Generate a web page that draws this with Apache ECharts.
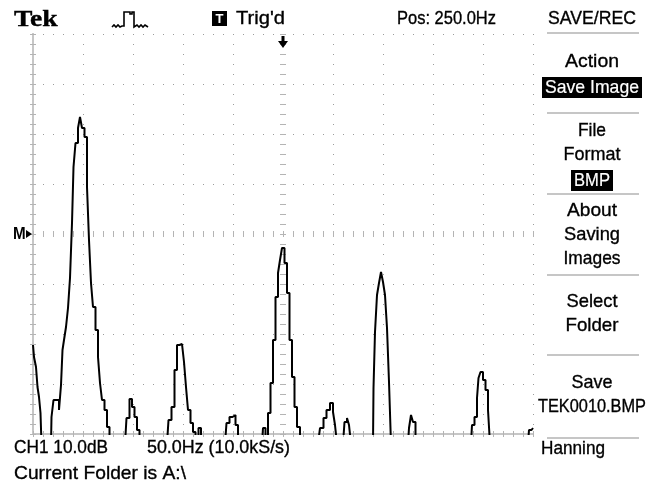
<!DOCTYPE html>
<html>
<head>
<meta charset="utf-8">
<script src="https://cdn.jsdelivr.net/npm/echarts@6/dist/echarts.min.js"></script>
<style>
  html, body { margin: 0; padding: 0; background: #fff; }
  #scope { width: 652px; height: 488px; }
</style>
</head>
<body>
<div id="scope"></div>
<script>
// FFT trace: frequency (Hz) and level (dB above screen bottom, 10 dB/div).
// Values below 0 fall off the bottom of the screen.
const freqHz = [0, 2, 4, 5, 7, 8, 9, 18, 19, 22, 25, 27, 29, 30, 32, 34, 36, 38, 40, 41,
  44, 46, 48, 50, 53, 55, 57, 59, 61, 64, 66, 68, 70, 73, 75, 78, 92, 95, 98, 100,
  103, 105, 108, 134, 137, 140, 143, 145, 148, 150, 152, 154, 156, 159, 161, 164, 167, 169, 192, 195,
  198, 201, 204, 206, 229, 231, 234, 236, 239, 241, 244, 246, 248, 250, 253, 255, 258, 260, 263, 265,
  269, 285, 289, 292, 295, 299, 301, 303, 305, 310, 313, 315, 317, 319, 340, 341, 343, 345, 347, 349,
  351, 353, 355, 357, 359, 375, 377, 379, 381, 384, 438, 440, 443, 445, 446, 449, 451, 454, 456, 458,
  495, 497, 500];
const levelDb = [17.8, 15.4, 13.4, 9.4, 7.4, 4.2, -2, -2, 3.4, 6.8, 6.8, 4.8, 9.8, 16.8, 18.8, 21.4, 25.2, 31.2, 42.2, 53.4,
  58.2, 61.2, 63.4, 61.2, 59.4, 49.4, 38.8, 30.2, 25.4, 20.8, 15.4, 10.2, 6.8, 4.8, 1.4, -2, -2, 3.2, 7, 5.4,
  3.4, 0.8, -2, -2, 2.8, 5.4, 12.8, 17.8, 18, 17.6, 14.4, 9.4, 4.8, 2.2, 0.4, -2, 1.2, -2, -2, 2.2,
  3.4, 3.8, 1.8, -2, -2, 1.2, -2, 4.2, 10.2, 18.8, 27.4, 32.2, 34.8, 37.2, 34.2, 28.2, 18.8, 11.4, 5.4, 1.4,
  -2, -2, 1.2, 3.2, 4.8, 6.2, 4.4, 1.8, -2, -2, 2.4, 3.2, 1.8, -2, -2, 9.2, 20.4, 27.8, 30.2, 32.4,
  30.4, 27.8, 21.2, 10.4, -2, -2, 1.2, 3.8, 2.4, -2, -2, 1.8, 3.4, 7.2, 11.2, 12.4, 10.8, 8.8, 4.8, -2,
  -2, 0.8, 1.2];

// Screen scales: 10 divisions of 50 Hz, 8 divisions of 10 dB
const freqSpan = [0, 500];
const freqPerDiv = 50;
const levelSpan = [0, 80];
const levelPerDiv = 10;
const triggerPosHz = 250;
const markerLevel = 40;

// Readouts
const headerTexts = { brand: 'Tek', trig: "Trig'd", pos: 'Pos: 250.0Hz', menu: 'SAVE/REC' };
const footerTexts = { ch: 'CH1 10.0dB', base: '50.0Hz (10.0kS/s)', folder: 'Current Folder is A:\\', win: 'Hanning' };
const menuItems = [
  { lines: ['Action'], inverse: 'Save Image' },
  { lines: ['File', 'Format'], inverse: 'BMP' },
  { lines: ['About', 'Saving', 'Images'] },
  { lines: ['Select', 'Folder'] },
  { lines: ['Save', 'TEK0010.BMP'] }
];

const traceData = freqHz.map((f, i) => [f, levelDb[i]]);

const FRAME = '#c6c6c6';
const DOTS = '#9c9c9c';
const TICKC = '#b4b4b4';
const FONT = '19px "Liberation Sans", Arial, sans-serif';

// rendered widths of the screen font's strings (px)
const textWidth = {
  "Trig'd": 49, 'Pos: 250.0Hz': 99, 'SAVE/REC': 88,
  'Action': 54, 'Save Image': 94, 'File': 28, 'Format': 57, 'BMP': 36,
  'About': 50, 'Saving': 56, 'Images': 57, 'Select': 51, 'Folder': 53,
  'Save': 41, 'TEK0010.BMP': 108, 'Hanning': 64,
  'CH1 10.0dB': 94, '50.0Hz (10.0kS/s)': 143, 'Current Folder is A:\\': 172
};
const measureCtx = document.createElement('canvas').getContext('2d');
function fitScale(text, font) {
  const w = textWidth[text];
  if (!w) return 1;
  measureCtx.font = font;
  return w / measureCtx.measureText(text).width;
}

const chart = echarts.init(document.getElementById('scope'), null, { renderer: 'canvas' });

function frameX(position, extra) {
  return Object.assign({
    type: 'value', gridIndex: 0, position: position,
    min: freqSpan[0], max: freqSpan[1], interval: freqPerDiv,
    axisLabel: { show: false },
    axisLine: { show: true, lineStyle: { color: FRAME, width: 2 } },
    axisTick: { show: true, inside: true, length: 3, lineStyle: { color: TICKC } },
    minorTick: { show: true, splitNumber: 5, length: 3, lineStyle: { color: TICKC } },
    splitLine: { show: false }
  }, extra || {});
}
function frameY(position, extra) {
  return Object.assign({
    type: 'value', gridIndex: 0, position: position,
    min: levelSpan[0], max: levelSpan[1], interval: levelPerDiv,
    axisLabel: { show: false },
    axisLine: { show: true, lineStyle: { color: FRAME, width: 2 } },
    axisTick: { show: true, inside: true, length: 3, lineStyle: { color: TICKC } },
    minorTick: { show: true, splitNumber: 5, length: 3, lineStyle: { color: TICKC } },
    splitLine: { show: false }
  }, extra || {});
}

chart.setOption({
  animation: false,
  backgroundColor: '#ffffff',
  grid: { left: 33, top: 34, width: 500, height: 400, outerBoundsMode: 'none', containLabel: false },
  xAxis: [
    frameX('bottom', { splitLine: { show: true, lineStyle: { color: DOTS, width: 1, type: [1, 9] } } }),
    frameX('top'),
    // centre horizontal graticule line: short vertical dashes
    frameX('bottom', {
      offset: -197,
      axisLine: { show: false },
      axisTick: { show: true, inside: true, length: 6, lineStyle: { color: TICKC } },
      minorTick: { show: true, splitNumber: 5, length: 6, lineStyle: { color: TICKC } }
    })
  ],
  yAxis: [
    frameY('left', { splitLine: { show: true, lineStyle: { color: DOTS, width: 1, type: [1, 9] } } }),
    frameY('right'),
    // centre vertical graticule line: short horizontal dashes
    frameY('left', {
      offset: -247,
      axisLine: { show: false },
      axisTick: { show: true, inside: true, length: 6, lineStyle: { color: TICKC } },
      minorTick: { show: true, splitNumber: 5, length: 6, lineStyle: { color: TICKC } }
    })
  ],
  series: [{
    type: 'line',
    name: 'CH1 FFT',
    xAxisIndex: 0, yAxisIndex: 0,
    data: traceData,
    step: 'middle',
    showSymbol: false,
    symbol: 'none',
    clip: true,
    lineStyle: { color: '#000000', width: 2 },
    z: 5
  }]
});

// Screen chrome: readouts, menu and markers
const g = [];
function txt(x, y, text, opt) {
  opt = opt || {};
  const font = opt.font || FONT;
  const fill = opt.fill || '#000';
  g.push({
    type: 'text', x: x, y: y, scaleX: opt.scaleX == null ? fitScale(text, font) : opt.scaleX, z: 10,
    style: {
      text: text, font: font, fill: fill,
      stroke: fill, lineWidth: opt.weight == null ? 0.35 : opt.weight,
      textAlign: opt.align || 'left', textVerticalAlign: 'middle'
    }
  });
}
function rect(x, y, w, h, fill) {
  g.push({ type: 'rect', shape: { x: x, y: y, width: w, height: h }, style: { fill: fill }, z: 9 });
}
function hline(x1, x2, y, color, w) {
  g.push({ type: 'line', shape: { x1: x1, y1: y, x2: x2, y2: y }, style: { stroke: color, lineWidth: w || 1 }, z: 9 });
}

// top readouts
txt(14, 20, headerTexts.brand, { font: 'bold 24px "Liberation Serif", serif', scaleX: 1.15, weight: 0.4 });
g.push({
  type: 'polyline', z: 10,
  shape: { points: [[112, 27], [114, 25], [116, 27], [118, 25], [120, 27], [122, 26], [124, 26], [124, 12],
    [130, 12], [130, 14], [132, 14], [132, 12], [134, 12], [134, 27], [137, 25], [139, 27], [141, 25], [143, 27], [145, 25], [148, 27]] },
  style: { stroke: '#000', lineWidth: 1.6, fill: null }
});
rect(212, 11, 15, 15, '#000');
txt(219.5, 19, 'T', { font: 'bold 13px "Liberation Sans", Arial, sans-serif', fill: '#fff', align: 'center', scaleX: 1, weight: 0 });
txt(236, 19, headerTexts.trig);
txt(397, 19, headerTexts.pos);
txt(592, 19, headerTexts.menu, { align: 'center' });
hline(547, 639, 33, FRAME, 2);

// side menu
const blocks = [
  { top: 62, sep: 113 },
  { top: 131, sep: 194 },
  { top: 211, sep: 275 },
  { top: 302, sep: 355 },
  { top: 383, sep: 438 }
];
menuItems.forEach((item, i) => {
  let y = blocks[i].top;
  item.lines.forEach(line => { txt(592, y, line, { align: 'center' }); y += 24; });
  if (item.inverse) {
    const w = item.inverse.length > 4 ? 100 : 42;
    const bh = 21;
    const by = i === 0 ? 77 : 170;
    rect(592 - w / 2, by, w, bh, '#000');
    txt(592, by + bh / 2 + 0.5, item.inverse, { align: 'center', fill: '#fff', weight: 0.2 });
  }
  hline(547, 639, blocks[i].sep, FRAME, 2);
});

// bottom readouts
txt(14, 448, footerTexts.ch);
txt(147, 448, footerTexts.base);
txt(541, 449, footerTexts.win);
txt(14, 474, footerTexts.folder);

// trigger position arrow and reference-level marker, placed through the axes
const trigPt = chart.convertToPixel({ gridIndex: 0 }, [triggerPosHz, levelSpan[1]]);
g.push({
  type: 'polygon', z: 11,
  shape: { points: [[trigPt[0] - 1.5, trigPt[1] + 2], [trigPt[0] + 1.5, trigPt[1] + 2], [trigPt[0] + 1.5, trigPt[1] + 7],
    [trigPt[0] + 5, trigPt[1] + 7], [trigPt[0], trigPt[1] + 14], [trigPt[0] - 5, trigPt[1] + 7], [trigPt[0] - 1.5, trigPt[1] + 7]] },
  style: { fill: '#000' }
});
const mPt = chart.convertToPixel({ gridIndex: 0 }, [freqSpan[0], markerLevel]);
txt(mPt[0] - 20, mPt[1] + 1, 'M', { font: 'bold 16px "Liberation Sans", Arial, sans-serif', scaleX: 0.95, weight: 0 });
g.push({
  type: 'polygon', z: 11,
  shape: { points: [[mPt[0] - 7, mPt[1] - 4], [mPt[0] - 1, mPt[1]], [mPt[0] - 7, mPt[1] + 4]] },
  style: { fill: '#000' }
});

chart.setOption({ graphic: g });
</script>
</body>
</html>
